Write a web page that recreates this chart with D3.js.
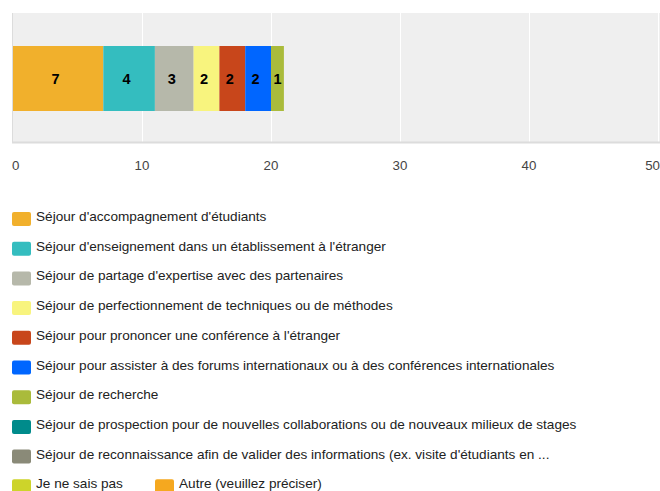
<!DOCTYPE html><html lang="fr">
<head>
  <meta charset="UTF-8">
  <title>Séjours</title>
  <script src="https://d3js.org/d3.v7.min.js"></script>
  <style>
    body { margin: 0; background: white; font-family: Arial, "Liberation Sans", sans-serif; }
    svg { display: block; }
    .tick-label { font-size: 13.3px; fill: #444; }
    .val { font-size: 14.5px; font-weight: bold; fill: #000; }
    .leg { font-size: 13.6px; fill: #222; }
  </style>
</head>
<body>
<svg width="660" height="491"></svg>
<script>
const categories = [
  "Séjour d'accompagnement d'étudiants",
  "Séjour d'enseignement dans un établissement à l'étranger",
  "Séjour de partage d'expertise avec des partenaires",
  "Séjour de perfectionnement de techniques ou de méthodes",
  "Séjour pour prononcer une conférence à l'étranger",
  "Séjour pour assister à des forums internationaux ou à des conférences internationales",
  "Séjour de recherche",
  "Séjour de prospection pour de nouvelles collaborations ou de nouveaux milieux de stages",
  "Séjour de reconnaissance afin de valider des informations (ex. visite d'étudiants en ...",
  "Je ne sais pas",
  "Autre (veuillez préciser)"
];
const values = [7, 4, 3, 2, 2, 2, 1, 0, 0, 0, 0];
const colors = ["#f1b02c", "#34bdbf", "#b6b8aa", "#f8f47e", "#c8461b", "#0066ff",
  "#aabb3b", "#008b8b", "#8a8a78", "#cdd42a", "#f5a81f"];
const ticks = [0, 10, 20, 30, 40, 50];

const svg = d3.select("svg");
const plot = { left: 13, right: 658, top: 13, bottom: 142 };

const x = d3.scaleLinear().domain([0, 50]).range([plot.left, plot.right]);

// background
svg.append("rect")
  .attr("x", plot.left).attr("y", plot.top)
  .attr("width", 660 - plot.left).attr("height", plot.bottom - plot.top)
  .attr("fill", "#efefef");

// gridlines
svg.selectAll("line.grid")
  .data(ticks.filter(t => t > 0))
  .enter().append("line")
  .attr("x1", d => Math.round(x(d)) + 0.5).attr("x2", d => Math.round(x(d)) + 0.5)
  .attr("y1", plot.top).attr("y2", plot.bottom)
  .attr("stroke", "#fff").attr("stroke-width", 1);

// left and bottom borders
svg.append("line")
  .attr("x1", plot.left - 0.5).attr("x2", plot.left - 0.5)
  .attr("y1", plot.top).attr("y2", plot.bottom + 1)
  .attr("stroke", "#dcdcdc").attr("stroke-width", 1);
svg.append("line")
  .attr("x1", plot.left - 1).attr("x2", 660)
  .attr("y1", plot.bottom + 0.5).attr("y2", plot.bottom + 0.5)
  .attr("stroke", "#dcdcdc").attr("stroke-width", 2);

// stacked bar
const stack = [];
let acc = 0;
values.forEach((v, i) => { stack.push({ v, i, x0: acc, x1: acc + v }); acc += v; });
const shown = stack.filter(d => d.v > 0);

const barY = 46, barH = 65;

svg.selectAll("rect.seg")
  .data(shown)
  .enter().append("rect")
  .attr("x", d => x(d.x0)).attr("width", d => x(d.x1) - x(d.x0))
  .attr("y", barY).attr("height", barH)
  .attr("fill", d => colors[d.i]);

svg.selectAll("text.val")
  .data(shown)
  .enter().append("text")
  .attr("class", "val")
  .attr("x", d => (x(d.x0) + x(d.x1)) / 2)
  .attr("dx", d => d.v > 1 ? -2.5 : 0)
  .attr("y", barY + barH / 2 + 5)
  .attr("text-anchor", "middle")
  .text(d => d.v);

// axis labels
svg.selectAll("text.tick-label")
  .data(ticks)
  .enter().append("text")
  .attr("class", "tick-label")
  .attr("x", d => x(d))
  .attr("y", 170)
  .attr("text-anchor", d => d === 0 ? "start" : (d === 50 ? "end" : "middle"))
  .attr("dx", d => d === 0 ? -1 : (d === 50 ? 2 : 0))
  .text(d => d);

// legend
const legendItems = categories.map((c, i) => {
  if (i < 10) return { c, i, lx: 12, ly: 212 + i * 29.7 };
  return { c, i, lx: 155, ly: 212 + 9 * 29.7 };
});
const lg = svg.selectAll("g.leg").data(legendItems).enter().append("g");
lg.append("rect")
  .attr("x", d => d.lx).attr("y", d => d.ly)
  .attr("width", 19).attr("height", 14).attr("rx", 2)
  .attr("fill", d => colors[d.i]);
lg.append("text")
  .attr("class", "leg")
  .attr("x", d => d.lx + 24).attr("y", d => d.ly + 9)
  .text(d => d.c);
</script>
</body>
</html>
